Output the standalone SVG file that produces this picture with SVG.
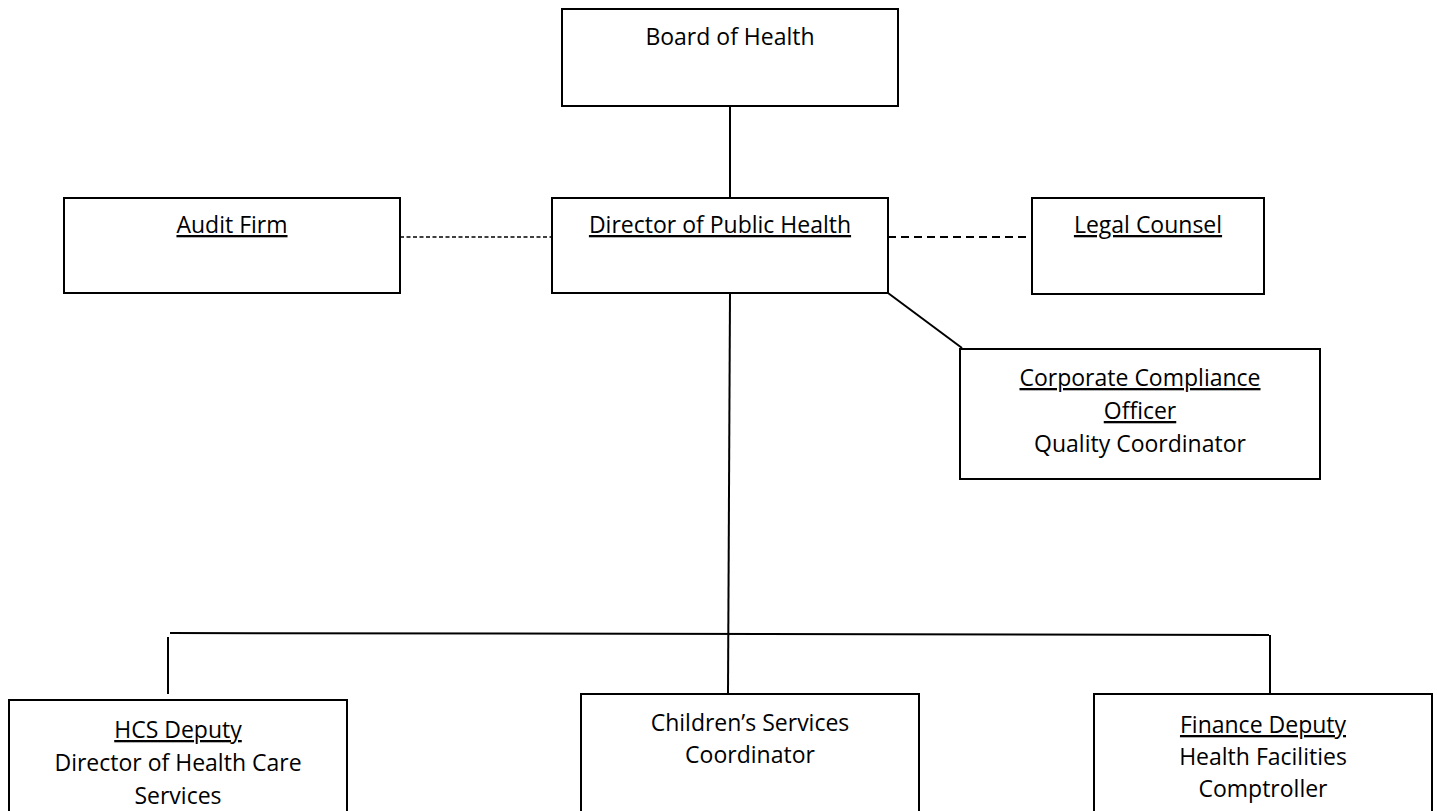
<svg xmlns="http://www.w3.org/2000/svg" width="1437" height="811" viewBox="0 0 1437 811">
<style>
.box{fill:#fff;stroke:#000;stroke-width:2}
.ln{stroke:#000;stroke-width:2;fill:none}
text{font-family:"Open Sans","Noto Sans",sans-serif;font-size:23px;fill:#000;text-anchor:middle}
.u{text-decoration:underline}
</style>
<rect width="1437" height="811" fill="#fff"/>
<g id="connectors">
<line class="ln" x1="730" y1="107" x2="730" y2="198"/>
<line x1="400" y1="237" x2="552" y2="237" stroke="#000" stroke-width="1.4" stroke-dasharray="4,2.5"/>
<line x1="888" y1="237" x2="1032" y2="237" stroke="#000" stroke-width="2" stroke-dasharray="8,5"/>
<line class="ln" x1="888" y1="293" x2="962" y2="348"/>
<line class="ln" x1="730" y1="293" x2="728" y2="694"/>
<line class="ln" x1="170" y1="633" x2="1269" y2="635"/>
<line class="ln" x1="168" y1="637" x2="168" y2="694"/>
<line class="ln" x1="1270" y1="635" x2="1270" y2="694"/>
</g>
<g id="board">
<rect class="box" x="562" y="9" width="336" height="97"/>
<text x="730" y="45">Board of Health</text>
</g>
<g id="director">
<rect class="box" x="552" y="198" width="336" height="95"/>
<text class="u" x="720" y="233">Director of Public Health</text>
</g>
<g id="audit">
<rect class="box" x="64" y="198" width="336" height="95"/>
<text class="u" x="232" y="233">Audit Firm</text>
</g>
<g id="legal">
<rect class="box" x="1032" y="198" width="232" height="96"/>
<text class="u" x="1148" y="233">Legal Counsel</text>
</g>
<g id="compliance">
<rect class="box" x="960" y="349" width="360" height="130"/>
<text class="u" x="1140" y="386">Corporate Compliance</text>
<text class="u" x="1140" y="419">Officer</text>
<text x="1140" y="452">Quality Coordinator</text>
</g>
<g id="hcs">
<rect class="box" x="9" y="700" width="338" height="130"/>
<text class="u" x="178" y="738">HCS Deputy</text>
<text x="178" y="771">Director of Health Care</text>
<text x="178" y="804">Services</text>
</g>
<g id="children">
<rect class="box" x="581" y="694" width="338" height="140"/>
<text x="750" y="731">Children’s Services</text>
<text x="750" y="763">Coordinator</text>
</g>
<g id="finance">
<rect class="box" x="1094" y="694" width="338" height="140"/>
<text class="u" x="1263" y="733">Finance Deputy</text>
<text x="1263" y="765">Health Facilities</text>
<text x="1263" y="797">Comptroller</text>
</g>
</svg>
